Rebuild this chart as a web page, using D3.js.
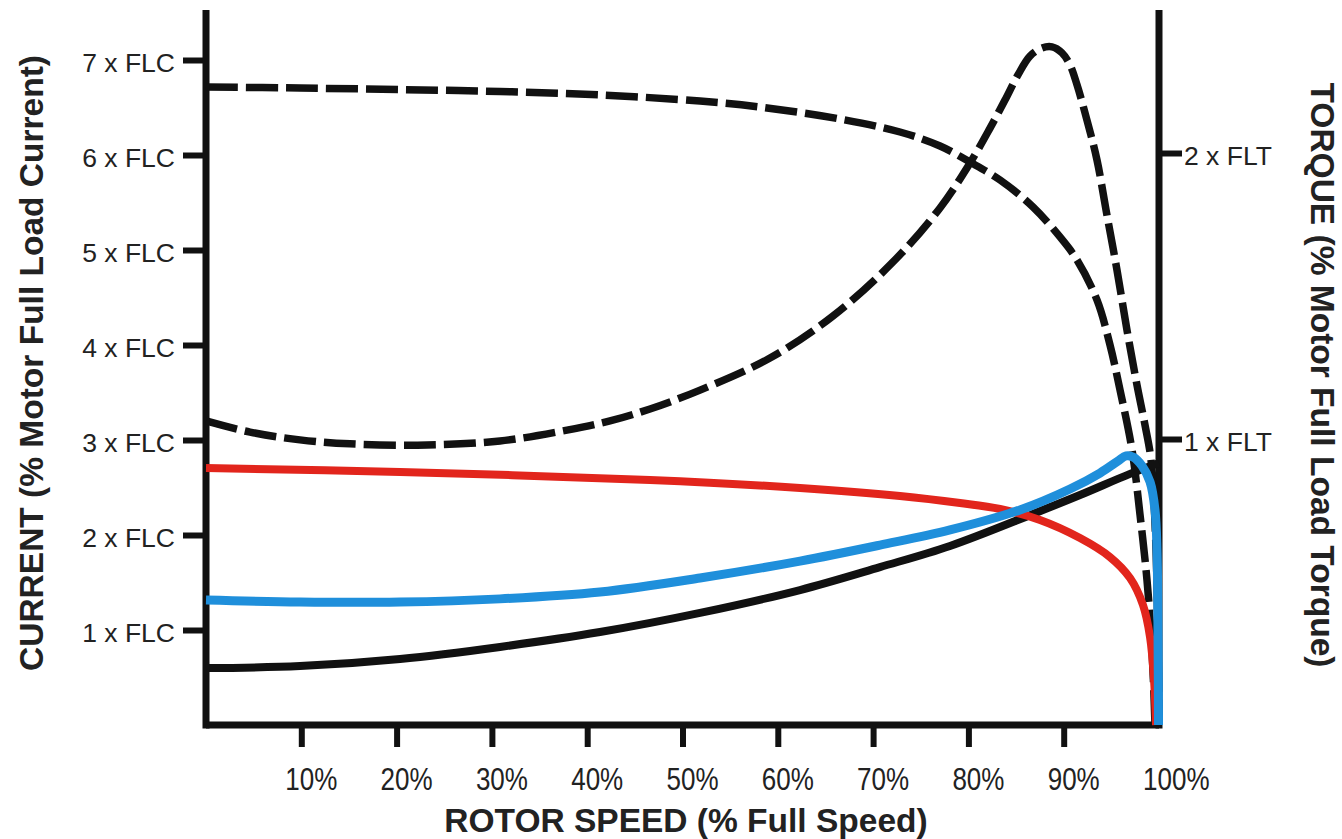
<!DOCTYPE html>
<html lang="en">
<head>
<meta charset="UTF-8">
<title>Rotor speed vs current and torque</title>
<script src="https://d3js.org/d3.v7.min.js"></script>
<style>
  body { margin: 0; padding: 0; background: #fff; }
  text { font-family: "Liberation Sans", Arial, sans-serif; fill: #222; }
</style>
</head>
<body>
<script>
  // rotor speed ticks and labels (% of full speed)
  const speedTicks = [10, 20, 30, 40, 50, 60, 70, 80, 90]
  const speedLabels = [10, 20, 30, 40, 50, 60, 70, 80, 90, 100]
  const currentTicks = [1, 2, 3, 4, 5, 6, 7]
  const torqueTicks = [1, 2]

  // dashed current curve (x FLC), full voltage start
  const dolCurrentSpeed = [0, 9.86, 20.36, 30.85, 41.34, 51.84, 58.13, 66.53, 72.82, 77.02, 80.17, 83.32, 86.78, 89.61, 91.40, 93.49, 94.86, 95.91, 97.17, 98.01, 98.74, 99.27, 99.58]
  const dolCurrent = [6.716, 6.705, 6.689, 6.668, 6.632, 6.568, 6.505, 6.379, 6.242, 6.095, 5.926, 5.737, 5.453, 5.137, 4.895, 4.474, 4.000, 3.526, 2.895, 2.211, 1.526, 0.789, 0]

  // dashed torque curve (x FLT), full voltage start
  const dolTorqueSpeed = [0, 4.62, 9.86, 15.11, 23.19, 30.85, 37.88, 42.39, 46.59, 51.84, 59.18, 65.79, 72.09, 77.02, 80.17, 82.27, 83.84, 85.20, 86.46, 87.72, 88.77, 89.82, 90.66, 91.40, 92.44, 93.49, 94.44, 95.59, 96.64, 97.69, 98.53, 99.16, 99.69, 100]
  const dolTorque = [1.063, 1.024, 0.997, 0.983, 0.979, 0.993, 1.031, 1.063, 1.105, 1.171, 1.283, 1.430, 1.619, 1.808, 1.965, 2.087, 2.185, 2.273, 2.339, 2.367, 2.371, 2.350, 2.308, 2.238, 2.115, 1.976, 1.801, 1.591, 1.381, 1.189, 1.049, 0.927, 0.612, 0]

  // red: soft start current (x FLC)
  const ssCurrentSpeed = [0, 20.36, 46.59, 62.33, 72.82, 79.12, 83.32, 87.51, 91.71, 94.86, 96.96, 98.32, 99.06, 99.48, 99.69]
  const ssCurrent = [2.705, 2.663, 2.579, 2.495, 2.411, 2.337, 2.274, 2.158, 1.968, 1.768, 1.547, 1.263, 0.926, 0.474, 0]

  // black: load torque (x FLT)
  const loadSpeed = [0, 9.86, 20.36, 30.85, 41.34, 51.84, 62.33, 70.72, 78.07, 86.78, 91.71, 96.96, 100]
  const loadTorque = [0.199, 0.206, 0.231, 0.273, 0.325, 0.392, 0.472, 0.552, 0.626, 0.738, 0.804, 0.878, 0.916]

  // blue: soft start motor torque (x FLT)
  const ssTorqueSpeed = [0, 9.86, 20.36, 30.85, 41.34, 51.84, 62.33, 70.72, 78.07, 85.41, 90.66, 93.81, 95.70, 96.54, 97.27, 98.22, 99.06, 99.58, 99.79, 99.90, 99.95]
  const ssTorque = [0.437, 0.430, 0.430, 0.441, 0.465, 0.514, 0.573, 0.629, 0.682, 0.752, 0.825, 0.881, 0.923, 0.941, 0.937, 0.906, 0.850, 0.752, 0.612, 0.297, 0]

  const width = 1342
  const height = 839
  const axisTop = 10

  const svg = d3.select("body")
    .append("svg")
    .attr("width", width)
    .attr("height", height)

  const x = d3.scaleLinear().domain([0, 100]).range([206, 1159])
  const yCur = d3.scaleLinear().domain([0, 7]).range([725, 60])
  const yTrq = d3.scaleLinear().domain([0, 2]).range([725, 153])

  // axes
  const leftAxis = svg.append("g")
    .attr("transform", `translate(${x(0)},0)`)
    .call(d3.axisLeft(yCur).tickValues(currentTicks).tickSize(23).tickPadding(8)
      .tickFormat(d => d + " x FLC"))
  const rightAxis = svg.append("g")
    .attr("transform", `translate(${x(100)},0)`)
    .call(d3.axisRight(yTrq).tickValues(torqueTicks).tickSize(23).tickPadding(2)
      .tickFormat(d => d + " x FLT"))
  const bottomAxis = svg.append("g")
    .attr("transform", `translate(0,${yCur(0)})`)
    .call(d3.axisBottom(x).tickValues(speedTicks).tickSize(22).tickFormat(""))

  ;[leftAxis, rightAxis, bottomAxis].forEach(g => {
    g.select(".domain").remove()
    g.selectAll(".tick line").attr("stroke", "#111").attr("stroke-width", 6)
    g.selectAll(".tick text")
      .attr("font-size", 26.5)
      .attr("font-family", "Liberation Sans, Arial, sans-serif")
      .attr("fill", "#222")
      .attr("dy", "0.44em")
  })

  svg.append("g").selectAll("text")
    .data(speedLabels)
    .join("text")
    .attr("transform", d => `translate(${x(d) - 16},790) scale(1,1.22)`)
    .attr("font-size", 26)
    .text(d => d + "%")

  const frame = svg.append("g").attr("stroke", "#111").attr("stroke-width", 7)
  frame.append("line").attr("x1", x(0)).attr("x2", x(0)).attr("y1", axisTop).attr("y2", yCur(0) + 3.5)
  frame.append("line").attr("x1", x(100)).attr("x2", x(100)).attr("y1", axisTop).attr("y2", yCur(0) + 3.5)
  frame.append("line").attr("x1", x(0)).attr("x2", x(100)).attr("y1", yCur(0)).attr("y2", yCur(0))

  // curves
  const line = (scaleY) => d3.line()
    .x(d => x(d[0]))
    .y(d => scaleY(d[1]))
    .curve(d3.curveCatmullRom.alpha(0.5))

  const pairs = (xs, ys) => xs.map((v, i) => [v, ys[i]])

  svg.append("path")
    .attr("d", line(yCur)(pairs(dolCurrentSpeed, dolCurrent)))
    .attr("fill", "none").attr("stroke", "#111").attr("stroke-width", 7.5)
    .attr("stroke-dasharray", "32,8")

  svg.append("path")
    .attr("d", line(yTrq)(pairs(dolTorqueSpeed, dolTorque)))
    .attr("fill", "none").attr("stroke", "#111").attr("stroke-width", 7.5)
    .attr("stroke-dasharray", "32,8")

  svg.append("path")
    .attr("d", line(yTrq)(pairs(loadSpeed, loadTorque)))
    .attr("fill", "none").attr("stroke", "#111").attr("stroke-width", 8)

  svg.append("path")
    .attr("d", line(yCur)(pairs(ssCurrentSpeed, ssCurrent)))
    .attr("fill", "none").attr("stroke", "#e2251c").attr("stroke-width", 8)

  svg.append("path")
    .attr("d", line(yTrq)(pairs(ssTorqueSpeed, ssTorque)))
    .attr("fill", "none").attr("stroke", "#1f8fdb").attr("stroke-width", 9)
    .attr("stroke-linejoin", "round")

  // axis titles
  svg.append("text")
    .attr("x", 686).attr("y", 832)
    .attr("text-anchor", "middle")
    .attr("font-size", 33.5).attr("font-weight", "bold")
    .text("ROTOR SPEED (% Full Speed)")

  svg.append("text")
    .attr("transform", "translate(43,363) rotate(-90)")
    .attr("text-anchor", "middle")
    .attr("font-size", 33.5).attr("font-weight", "bold")
    .text("CURRENT (% Motor Full Load Current)")

  svg.append("text")
    .attr("transform", "translate(1311,375) rotate(90)")
    .attr("text-anchor", "middle")
    .attr("font-size", 33.5).attr("font-weight", "bold")
    .text("TORQUE (% Motor Full Load Torque)")
</script>
</body>
</html>
